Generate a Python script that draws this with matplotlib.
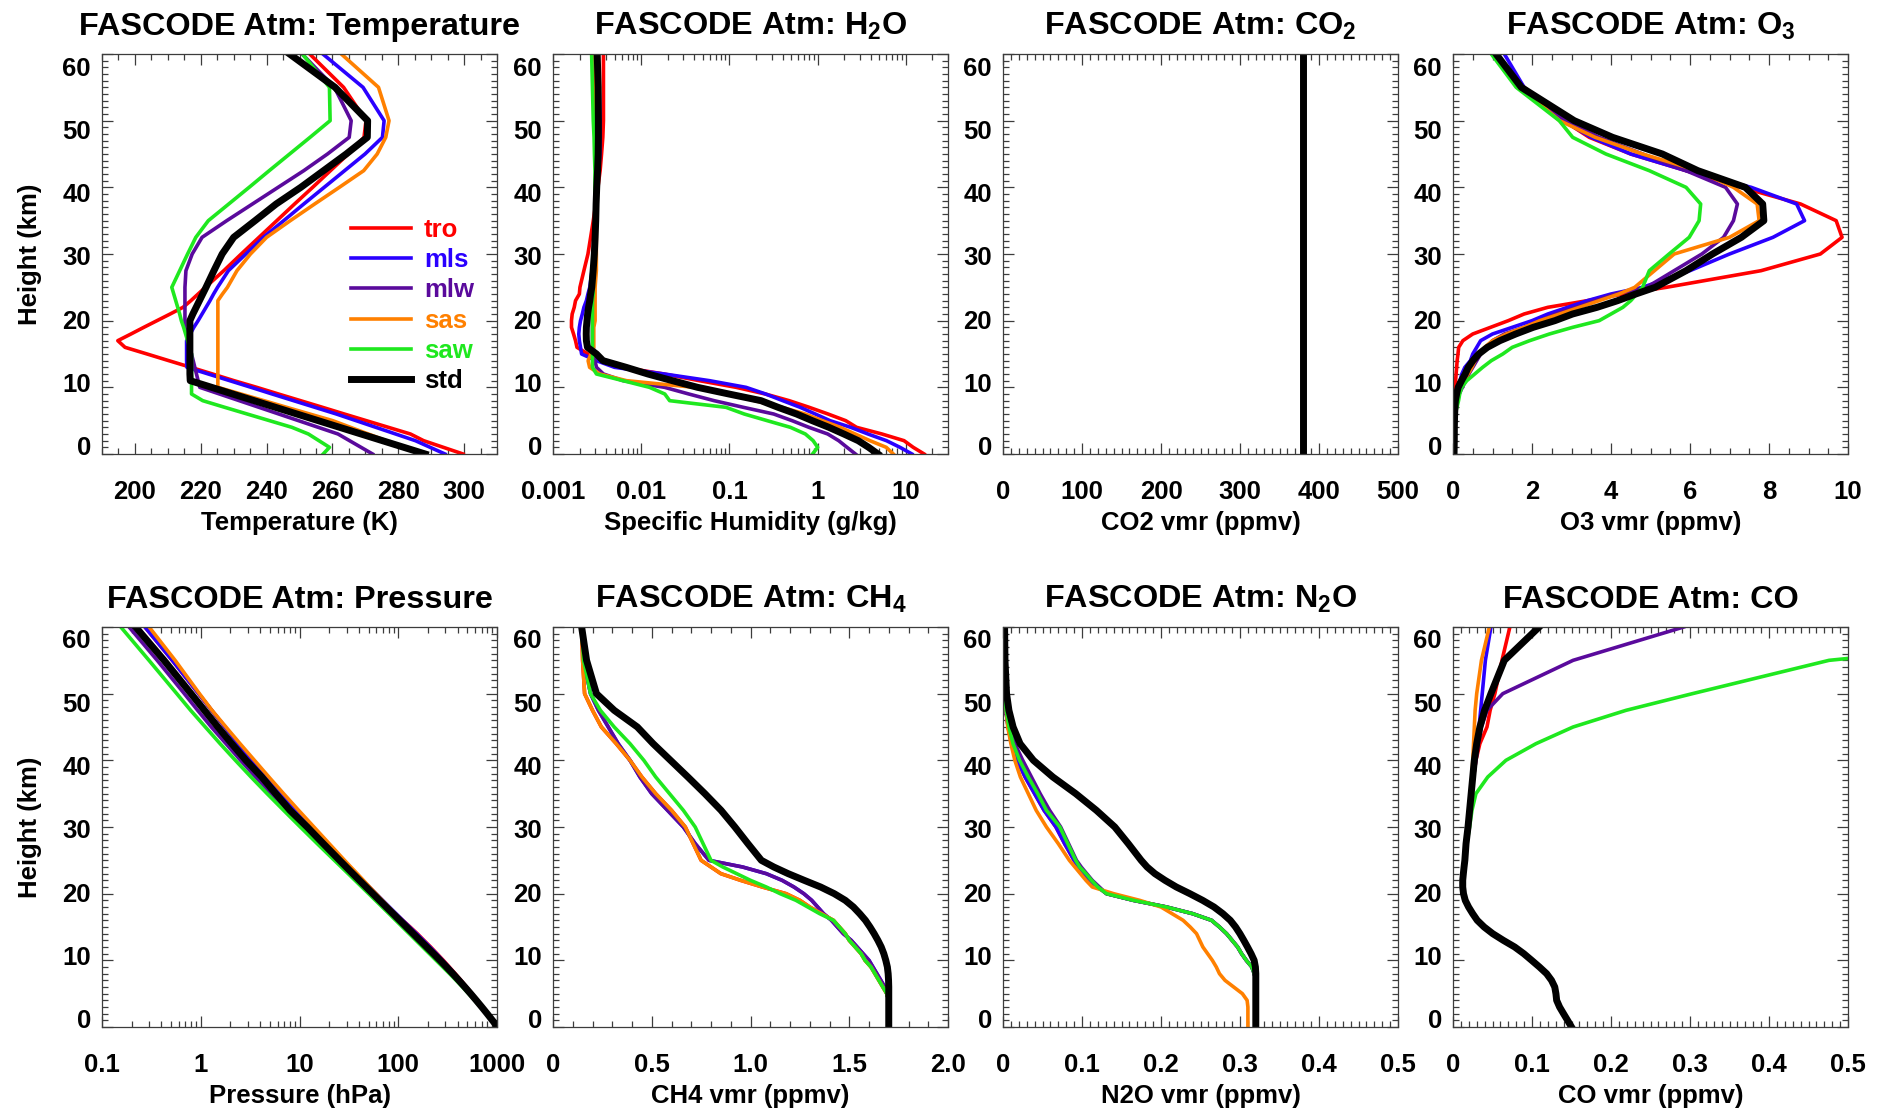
import numpy as np
import matplotlib.pyplot as plt
from matplotlib.ticker import MultipleLocator, LogLocator, NullFormatter
from matplotlib.transforms import ScaledTranslation

plt.rcParams['font.family'] = ['Liberation Sans', 'DejaVu Sans']
plt.rcParams['font.weight'] = 'bold'
plt.rcParams['mathtext.fontset'] = 'custom'
plt.rcParams['mathtext.rm'] = 'Liberation Sans:bold'
plt.rcParams['mathtext.default'] = 'regular'

# altitude grid (km)
heights = [0, 1, 2, 3, 4, 5, 6, 7, 8, 9, 10, 11, 12, 13, 14, 15, 16, 17, 18, 19,
           20, 21, 22, 23, 24, 25, 27.5, 30, 32.5, 35, 37.5, 40, 42.5, 45, 47.5, 50, 55, 60]

atm_names = ['tro', 'mls', 'mlw', 'sas', 'saw', 'std']

# temperature (K)
t_tro = [299.7, 293.7, 287.7, 283.7, 277.0, 270.3, 263.6, 257.0, 250.3, 243.6, 237.0, 230.1, 223.6, 217.0, 210.3,
         203.7, 197.0, 194.8, 198.8, 202.7, 206.7, 210.7, 214.6, 217.0, 219.2, 221.4, 227.0, 232.3, 237.7, 243.1,
         248.5, 254.0, 259.4, 264.8, 269.6, 270.2, 263.4, 253.1]
t_mls = [294.2, 289.7, 285.2, 279.2, 273.2, 267.2, 261.2, 254.7, 248.2, 241.7, 235.3, 228.8, 222.3, 215.8, 215.7,
         215.7, 215.7, 215.7, 216.8, 217.9, 219.2, 220.4, 221.6, 222.8, 223.9, 225.1, 228.4, 233.7, 239.0, 245.2,
         251.3, 257.5, 263.7, 269.9, 275.2, 275.7, 269.3, 257.1]
t_mlw = [272.2, 268.7, 265.2, 261.7, 255.7, 249.7, 243.7, 237.7, 231.7, 225.7, 219.7, 219.2, 218.7, 218.2, 217.7,
         217.2, 216.7, 216.2, 215.7, 215.2, 215.2, 215.2, 215.2, 215.2, 215.2, 215.2, 215.5, 217.4, 220.4, 227.9,
         235.7, 243.5, 251.3, 258.5, 265.1, 265.7, 260.6, 250.8]
t_sas = [287.2, 281.7, 276.3, 270.9, 265.5, 260.1, 253.1, 246.1, 239.2, 232.2, 225.2, 225.2, 225.2, 225.2, 225.2,
         225.2, 225.2, 225.2, 225.2, 225.2, 225.2, 225.2, 225.2, 225.2, 226.6, 228.1, 231.0, 235.1, 240.0, 247.2,
         254.6, 262.1, 269.5, 273.6, 276.2, 277.2, 274.0, 262.7]
t_saw = [257.2, 259.1, 255.9, 252.7, 247.7, 240.9, 234.1, 227.3, 220.6, 217.2, 217.2, 217.2, 217.2, 217.2, 217.2,
         217.2, 216.6, 216.0, 215.4, 214.8, 214.1, 213.6, 213.0, 212.4, 211.8, 211.2, 213.6, 216.0, 218.5, 222.3,
         228.5, 234.7, 240.8, 247.0, 253.2, 259.3, 259.1, 250.9]
t_std = [288.2, 281.7, 275.2, 268.7, 262.2, 255.7, 249.2, 242.7, 236.2, 229.7, 223.3, 216.8, 216.7, 216.7, 216.7,
         216.7, 216.7, 216.7, 216.7, 216.7, 216.7, 217.6, 218.6, 219.6, 220.6, 221.6, 224.0, 226.5, 230.0, 236.5,
         242.9, 250.4, 257.3, 264.2, 270.6, 270.7, 260.8, 247.0]

# specific humidity (g/kg)
q_tro = [16.1, 12.1, 9.52, 5.35, 2.76, 2.08, 1.31, 0.802, 0.475, 0.255, 0.119, 0.0455, 0.0181, 0.00616, 0.00387,
         0.00249, 0.00187, 0.00180, 0.00171, 0.00162, 0.00162, 0.00165, 0.00174, 0.00180, 0.00199, 0.00202,
         0.00224, 0.00249, 0.00267, 0.00286, 0.00305, 0.00323, 0.00342, 0.00355, 0.00367, 0.00373, 0.00373, 0.00373]
q_mls = [11.7, 8.57, 6.02, 3.72, 2.37, 1.38, 0.939, 0.634, 0.402, 0.257, 0.154, 0.0594, 0.0183, 0.00498, 0.00311,
         0.00211, 0.00205, 0.00199, 0.00196, 0.00199, 0.00205, 0.00215, 0.00224, 0.00239, 0.00249, 0.00261,
         0.00277, 0.00292, 0.00302, 0.00308, 0.00311, 0.00317, 0.00330, 0.00339, 0.00342, 0.00342, 0.00333, 0.00311]
q_mlw = [2.68, 2.15, 1.73, 1.30, 0.796, 0.513, 0.317, 0.144, 0.0670, 0.0346, 0.0184, 0.00622, 0.00373, 0.00311,
         0.00299, 0.00292, 0.00286, 0.00280, 0.00280, 0.00280, 0.00280, 0.00280, 0.00282, 0.00283, 0.00286,
         0.00289, 0.00292, 0.00295, 0.00299, 0.00302, 0.00305, 0.00308, 0.00311, 0.00311, 0.00311, 0.00308,
         0.00302, 0.00280]
q_sas = [7.2, 5.99, 3.91, 2.66, 1.80, 1.13, 0.723, 0.394, 0.194, 0.100, 0.040, 0.0068, 0.0034, 0.0026, 0.0025,
         0.0027, 0.0029, 0.0029, 0.0029, 0.0029, 0.0030, 0.0030, 0.0030, 0.0030, 0.0030, 0.0030, 0.0031, 0.0031,
         0.0031, 0.0031, 0.0031, 0.0031, 0.0031, 0.0031, 0.0031, 0.0031, 0.0030, 0.0030]
q_saw = [0.874, 1.00, 0.888, 0.725, 0.491, 0.268, 0.147, 0.0914, 0.0210, 0.0185, 0.0124, 0.00622, 0.00311,
         0.00280, 0.00280, 0.00280, 0.00280, 0.00280, 0.00280, 0.00280, 0.00280, 0.00280, 0.00280, 0.00280,
         0.00286, 0.00286, 0.00289, 0.00292, 0.00295, 0.00299, 0.00299, 0.00299, 0.00299, 0.00295, 0.00292,
         0.00286, 0.00280, 0.00274]
q_std = [4.82, 3.78, 2.88, 1.98, 1.34, 0.869, 0.576, 0.356, 0.228, 0.0985, 0.0435, 0.0225, 0.0119, 0.00675,
         0.00369, 0.00311, 0.00246, 0.00239, 0.00238, 0.00239, 0.00243, 0.00247, 0.00253, 0.00261, 0.00267,
         0.00275, 0.00285, 0.00294, 0.00300, 0.00305, 0.00308, 0.00313, 0.00320, 0.00325, 0.00327, 0.00327,
         0.00325, 0.00317]

# CO2 (ppmv), same for all six atmospheres
co2_vmr = [380, 380, 380, 380, 380, 380, 380, 380, 380, 380, 380, 380, 380, 380, 380, 380, 380, 380, 380,
           380, 380, 380, 380, 380, 380, 380, 380, 380, 380, 380, 380, 380, 380, 380, 380, 380, 380, 380]

# O3 (ppmv)
o3_tro = [0.0287, 0.0315, 0.0334, 0.0350, 0.0356, 0.0377, 0.0399, 0.0422, 0.0447, 0.050, 0.056, 0.066, 0.078,
          0.093, 0.105, 0.126, 0.144, 0.25, 0.5, 0.95, 1.4, 1.8, 2.4, 3.4, 4.3, 5.4, 7.8, 9.3, 9.85, 9.7, 8.8,
          7.3, 5.9, 4.5, 3.45, 2.8, 1.8, 1.1]
o3_mls = [0.0302, 0.0334, 0.0369, 0.0422, 0.0482, 0.0551, 0.0641, 0.0776, 0.0913, 0.111, 0.130, 0.179, 0.223,
          0.3, 0.44, 0.5, 0.6, 0.7, 1.0, 1.5, 2.0, 2.4, 2.9, 3.4, 4.0, 4.8, 6.0, 7.0, 8.1, 8.9, 8.7, 7.55, 5.9,
          4.5, 3.5, 2.8, 1.8, 1.3]
o3_mlw = [0.0278, 0.028, 0.0285, 0.032, 0.0357, 0.0472, 0.0584, 0.0789, 0.104, 0.157, 0.237, 0.320, 0.402, 0.5,
          0.6, 0.7, 0.85, 1.0, 1.3, 1.8, 2.2, 2.6, 3.1, 3.6, 4.1, 4.9, 5.6, 6.3, 6.85, 7.1, 7.2, 6.9, 5.9, 4.8,
          3.7, 2.85, 1.7, 1.1]
o3_sas = [0.024, 0.027, 0.031, 0.035, 0.04, 0.045, 0.05, 0.06, 0.08, 0.12, 0.18, 0.28, 0.38, 0.48, 0.56, 0.63,
          0.8, 1.0, 1.35, 1.8, 2.2, 2.7, 3.2, 3.7, 4.2, 4.6, 5.1, 5.6, 7.0, 7.75, 7.7, 7.1, 6.2, 4.8, 3.6, 2.7,
          1.7, 1.1]
o3_saw = [0.018, 0.02, 0.025, 0.03, 0.035, 0.04, 0.05, 0.1, 0.14, 0.17, 0.22, 0.35, 0.55, 0.75, 0.97, 1.26, 1.5,
          1.94, 2.44, 3.03, 3.7, 4.0, 4.3, 4.5, 4.65, 4.8, 4.97, 5.47, 5.98, 6.23, 6.27, 5.9, 4.97, 3.87, 3.03,
          2.69, 1.6, 0.97]
o3_std = [0.0266, 0.0293, 0.0324, 0.0332, 0.0339, 0.0377, 0.0411, 0.0501, 0.0597, 0.0917, 0.131, 0.215, 0.310,
          0.385, 0.503, 0.651, 0.870, 1.187, 1.587, 2.03, 2.579, 3.028, 3.647, 4.168, 4.627, 5.118, 5.9, 6.57,
          7.3, 7.87, 7.84, 7.4, 6.2, 5.3, 4.04, 3.07, 1.73, 1.09]

# pressure (hPa)
p_tro = [1013, 904, 805, 715, 633, 559, 492, 432, 378, 329, 286, 247, 213, 182, 156, 132, 111, 93.7, 78.9, 66.6,
         56.5, 48.0, 40.9, 35.0, 30.0, 25.7, 18.1, 12.8, 9.22, 6.53, 4.73, 3.33, 2.41, 1.76, 1.29, 0.951, 0.515,
         0.272]
p_mls = [1013, 902, 802, 710, 628, 554, 487, 426, 372, 324, 281, 243, 209, 179, 153, 130, 111, 95.0, 81.2, 69.5,
         59.5, 51.0, 43.7, 37.6, 32.2, 27.7, 19.07, 13.2, 9.3, 6.52, 4.64, 3.33, 2.4, 1.76, 1.29, 0.951, 0.515,
         0.272]
p_mlw = [1018, 897.3, 789.7, 693.8, 608.1, 531.3, 462.7, 401.6, 347.3, 299.2, 256.8, 219.9, 188.2, 161.0, 137.8,
         117.8, 100.7, 86.1, 73.5, 62.8, 53.7, 45.8, 39.1, 33.4, 28.6, 24.3, 16.6, 11.1, 7.56, 5.18, 3.6, 2.53,
         1.8, 1.28, 0.93, 0.682, 0.362, 0.188]
p_sas = [1010, 896, 792.9, 700, 616, 541, 473, 413, 359, 310.7, 267.7, 230, 197.7, 170, 146, 125.2, 107.5, 92.6,
         79.8, 68.9, 59.5, 51.3, 44.4, 38.4, 33.1, 28.6, 20.0, 14.0, 9.8, 6.9, 4.9, 3.5, 2.5, 1.8, 1.3, 0.97,
         0.55, 0.30]
p_saw = [1013, 887.8, 777.5, 679.8, 593.2, 515.8, 446.7, 385.3, 330.8, 282.9, 241.8, 206.7, 176.6, 151.0, 129.1,
         110.3, 94.31, 80.58, 68.82, 58.75, 50.14, 42.77, 36.47, 31.09, 26.49, 22.56, 15.13, 10.2, 6.91, 4.701,
         3.23, 2.243, 1.57, 1.113, 0.79, 0.5719, 0.299, 0.155]
p_std = [1013, 898.6, 795.0, 701.2, 616.6, 540.5, 472.2, 411.1, 356.5, 308.0, 265.0, 227.0, 194.0, 165.8, 141.7,
         121.1, 103.5, 88.5, 75.65, 64.67, 55.29, 47.29, 40.47, 34.67, 29.72, 25.49, 17.43, 11.97, 8.01, 5.746,
         4.15, 2.871, 2.06, 1.491, 1.09, 0.7978, 0.425, 0.219]

# CH4 (ppmv)
ch4_mlw = [1.7, 1.7, 1.7, 1.7, 1.7, 1.69, 1.68, 1.66, 1.64, 1.62, 1.6, 1.57, 1.54, 1.51, 1.47, 1.44, 1.41, 1.37,
           1.34, 1.31, 1.27, 1.22, 1.16, 1.08, 0.96, 0.79, 0.72, 0.66, 0.58, 0.5, 0.44, 0.39, 0.33, 0.28, 0.23,
           0.19, 0.155, 0.145]
ch4_sas = [1.7, 1.7, 1.7, 1.7, 1.7, 1.69, 1.67, 1.65, 1.63, 1.61, 1.58, 1.56, 1.53, 1.5, 1.48, 1.45, 1.42, 1.36,
           1.3, 1.25, 1.18, 1.06, 0.95, 0.85, 0.8, 0.75, 0.71, 0.67, 0.6, 0.52, 0.45, 0.39, 0.32, 0.245, 0.2,
           0.16, 0.15, 0.145]
ch4_saw = [1.7, 1.7, 1.7, 1.7, 1.7, 1.69, 1.67, 1.65, 1.63, 1.61, 1.58, 1.56, 1.53, 1.5, 1.48, 1.45, 1.42, 1.35,
           1.29, 1.23, 1.15, 1.08, 1.0, 0.93, 0.86, 0.8, 0.76, 0.72, 0.66, 0.59, 0.52, 0.46, 0.39, 0.31, 0.24,
           0.19, 0.155, 0.145]
ch4_std = [1.7, 1.7, 1.7, 1.7, 1.7, 1.7, 1.7, 1.699, 1.697, 1.693, 1.685, 1.675, 1.662, 1.645, 1.626, 1.605,
           1.582, 1.553, 1.521, 1.48, 1.424, 1.355, 1.272, 1.191, 1.118, 1.055, 0.987, 0.921, 0.851, 0.769, 0.683,
           0.595, 0.507, 0.427, 0.31, 0.22, 0.17, 0.145]

# N2O (ppmv)
n2o_mls = [0.32, 0.32, 0.32, 0.32, 0.32, 0.32, 0.32, 0.32, 0.318, 0.315, 0.308, 0.302, 0.297, 0.29, 0.283, 0.274,
           0.264, 0.24, 0.207, 0.165, 0.131, 0.12, 0.11, 0.103, 0.096, 0.09, 0.078, 0.067, 0.052, 0.04, 0.028,
           0.018, 0.011, 0.0065, 0.0035, 0.002, 0.001, 0.0008]
n2o_mlw = [0.32, 0.32, 0.32, 0.32, 0.32, 0.32, 0.32, 0.32, 0.318, 0.315, 0.308, 0.302, 0.297, 0.29, 0.283, 0.274,
           0.264, 0.24, 0.207, 0.165, 0.131, 0.122, 0.113, 0.106, 0.099, 0.093, 0.083, 0.073, 0.059, 0.047, 0.036,
           0.025, 0.015, 0.009, 0.005, 0.0025, 0.001, 0.0008]
n2o_sas = [0.31, 0.31, 0.31, 0.31, 0.309, 0.303, 0.292, 0.281, 0.274, 0.27, 0.265, 0.259, 0.253, 0.249, 0.245,
           0.237, 0.228, 0.214, 0.2, 0.173, 0.14, 0.113, 0.105, 0.098, 0.091, 0.084, 0.07, 0.055, 0.042, 0.032,
           0.022, 0.015, 0.01, 0.006, 0.004, 0.003, 0.0015, 0.001]
n2o_saw = [0.32, 0.32, 0.32, 0.32, 0.32, 0.32, 0.32, 0.32, 0.318, 0.315, 0.308, 0.302, 0.297, 0.29, 0.283, 0.274,
           0.264, 0.24, 0.207, 0.165, 0.131, 0.12, 0.112, 0.105, 0.097, 0.092, 0.082, 0.072, 0.055, 0.044, 0.032,
           0.021, 0.0127, 0.0076, 0.004, 0.002, 0.001, 0.0008]
n2o_std = [0.32, 0.32, 0.32, 0.32, 0.32, 0.32, 0.32, 0.32, 0.32, 0.3195, 0.3179, 0.314, 0.3095, 0.3048, 0.2999,
           0.2944, 0.2877, 0.2783, 0.2671, 0.2527, 0.2365, 0.2194, 0.2051, 0.1923, 0.1824, 0.1749, 0.1586, 0.1415,
           0.1182, 0.0921, 0.0631, 0.0385, 0.0216, 0.0128, 0.0075, 0.0045, 0.0025, 0.0020]

# CO (ppmv)
co_tro = [0.15, 0.145, 0.1399, 0.1349, 0.1312, 0.1303, 0.1288, 0.1247, 0.1185, 0.1094, 0.0996, 0.0896, 0.0781,
          0.0637, 0.0503, 0.0394, 0.0307, 0.0249, 0.0197, 0.0155, 0.0133, 0.0123, 0.0123, 0.0131, 0.014, 0.015,
          0.0165, 0.019, 0.021, 0.023, 0.026, 0.029, 0.034, 0.043, 0.047, 0.053, 0.062, 0.072]
co_mls = [0.15, 0.145, 0.1399, 0.1349, 0.1312, 0.1303, 0.1288, 0.1247, 0.1185, 0.1094, 0.0996, 0.0896, 0.0781,
          0.0637, 0.0503, 0.0394, 0.0307, 0.0249, 0.0197, 0.0155, 0.0133, 0.0123, 0.0123, 0.0131, 0.014, 0.015,
          0.0165, 0.019, 0.021, 0.023, 0.025, 0.027, 0.03, 0.033, 0.035, 0.037, 0.041, 0.048]
co_mlw = [0.15, 0.145, 0.1399, 0.1349, 0.1312, 0.1303, 0.1288, 0.1247, 0.1185, 0.1094, 0.0996, 0.0896, 0.0781,
          0.0637, 0.0503, 0.0394, 0.0307, 0.0249, 0.0197, 0.0155, 0.0133, 0.0123, 0.0123, 0.0131, 0.014, 0.015,
          0.0165, 0.019, 0.021, 0.023, 0.026, 0.029, 0.032, 0.036, 0.043, 0.063, 0.152, 0.292]
co_sas = [0.15, 0.145, 0.1399, 0.1349, 0.1312, 0.1303, 0.1288, 0.1247, 0.1185, 0.1094, 0.0996, 0.0896, 0.0781,
          0.0637, 0.0503, 0.0394, 0.0307, 0.0249, 0.0197, 0.0155, 0.0133, 0.0123, 0.0123, 0.0131, 0.014, 0.015,
          0.0165, 0.019, 0.021, 0.022, 0.024, 0.025, 0.026, 0.027, 0.028, 0.03, 0.036, 0.046]
co_saw = [0.15, 0.145, 0.1399, 0.1349, 0.1312, 0.1303, 0.1288, 0.1247, 0.1185, 0.1094, 0.0996, 0.0896, 0.0781,
          0.0637, 0.0503, 0.0394, 0.0307, 0.0249, 0.0197, 0.0155, 0.0133, 0.0123, 0.0123, 0.0131, 0.014, 0.015,
          0.0175, 0.021, 0.024, 0.029, 0.044, 0.067, 0.105, 0.152, 0.219, 0.303, 0.476, 0.9]
co_std = [0.15, 0.145, 0.1399, 0.1349, 0.1312, 0.1303, 0.1288, 0.1247, 0.1185, 0.1094, 0.0996, 0.0896, 0.0781,
          0.0637, 0.0503, 0.0394, 0.0307, 0.0249, 0.0197, 0.0155, 0.0133, 0.0123, 0.0123, 0.0131, 0.014, 0.015,
          0.0165, 0.019, 0.021, 0.023, 0.025, 0.027, 0.030, 0.034, 0.040, 0.048, 0.065, 0.109]

colors = ['#ff0000', '#2a00ff', '#5a0a9c', '#ff8000', '#1fe81f', '#000000']
widths = [2.6, 2.6, 2.6, 2.6, 2.6, 5.0]

panels = [
    dict(title='FASCODE Atm: Temperature', xlabel='Temperature (K)', log=False, xlim=(190, 310),
         ticks=[200, 220, 240, 260, 280, 300], labels=['200', '220', '240', '260', '280', '300'], minor=5,
         data=[t_tro, t_mls, t_mlw, t_sas, t_saw, t_std]),
    dict(title='FASCODE Atm: H$_2$O', xlabel='Specific Humidity (g/kg)', log=True, xlim=(0.001, 30),
         ticks=[0.001, 0.01, 0.1, 1, 10], labels=['0.001', '0.01', '0.1', '1', '10'], minor=None,
         data=[q_tro, q_mls, q_mlw, q_sas, q_saw, q_std]),
    dict(title='FASCODE Atm: CO$_2$', xlabel='CO2 vmr (ppmv)', log=False, xlim=(0, 500),
         ticks=[0, 100, 200, 300, 400, 500], labels=['0', '100', '200', '300', '400', '500'], minor=10,
         data=[co2_vmr] * 6),
    dict(title='FASCODE Atm: O$_3$', xlabel='O3 vmr (ppmv)', log=False, xlim=(0, 10),
         ticks=[0, 2, 4, 6, 8, 10], labels=['0', '2', '4', '6', '8', '10'], minor=0.5,
         data=[o3_tro, o3_mls, o3_mlw, o3_sas, o3_saw, o3_std]),
    dict(title='FASCODE Atm: Pressure', xlabel='Pressure (hPa)', log=True, xlim=(0.1, 1000),
         ticks=[0.1, 1, 10, 100, 1000], labels=['0.1', '1', '10', '100', '1000'], minor=None,
         data=[p_tro, p_mls, p_mlw, p_sas, p_saw, p_std]),
    dict(title='FASCODE Atm: CH$_4$', xlabel='CH4 vmr (ppmv)', log=False, xlim=(0, 2),
         ticks=[0, 0.5, 1.0, 1.5, 2.0], labels=['0', '0.5', '1.0', '1.5', '2.0'], minor=0.1,
         data=[ch4_sas, ch4_mlw, ch4_mlw, ch4_sas, ch4_saw, ch4_std]),
    dict(title='FASCODE Atm: N$_2$O', xlabel='N2O vmr (ppmv)', log=False, xlim=(0, 0.5),
         ticks=[0, 0.1, 0.2, 0.3, 0.4, 0.5], labels=['0', '0.1', '0.2', '0.3', '0.4', '0.5'], minor=0.01,
         data=[n2o_mls, n2o_mls, n2o_mlw, n2o_sas, n2o_saw, n2o_std]),
    dict(title='FASCODE Atm: CO', xlabel='CO vmr (ppmv)', log=False, xlim=(0, 0.5),
         ticks=[0, 0.1, 0.2, 0.3, 0.4, 0.5], labels=['0', '0.1', '0.2', '0.3', '0.4', '0.5'], minor=0.01,
         data=[co_tro, co_mls, co_mlw, co_sas, co_saw, co_std]),
]

height_ticks = [0, 10, 20, 30, 40, 50, 60]

W, H = 1885, 1118
fig = plt.figure(figsize=(W / 100, H / 100), dpi=100)

col_left = [102, 553, 1003, 1453]
row_top = [54, 627]
ax_w, ax_h = 395, 400
axis_color = '#3c3c3c'

for i, pan in enumerate(panels):
    r, c = divmod(i, 4)
    ax = fig.add_axes([col_left[c] / W, 1 - (row_top[r] + ax_h) / H, ax_w / W, ax_h / H])

    for name, vals, col, lw in zip(atm_names, pan['data'], colors, widths):
        ax.plot(vals, heights, color=col, lw=lw, label=name)

    if pan['log']:
        ax.set_xscale('log')
        ax.xaxis.set_minor_locator(LogLocator(base=10, subs=np.arange(2, 10)))
        ax.xaxis.set_minor_formatter(NullFormatter())
    ax.set_xticks(pan['ticks'], pan['labels'])
    if pan['minor']:
        ax.xaxis.set_minor_locator(MultipleLocator(pan['minor']))
    ax.set_xlim(*pan['xlim'])

    ax.set_ylim(0, 60)
    ax.set_yticks(height_ticks)
    ax.yaxis.set_minor_locator(MultipleLocator(1))

    ax.tick_params(which='both', direction='in', top=True, right=True, color=axis_color, width=0.9)
    ax.tick_params(which='major', length=8)
    ax.tick_params(which='minor', length=4)
    ax.tick_params(axis='x', which='major', pad=19, labelsize=18.5)
    ax.tick_params(axis='y', which='major', pad=8, labelsize=18.5)
    for s in ax.spines.values():
        s.set_color(axis_color)
        s.set_linewidth(0.9)

    # the height labels sit a little inside the end ticks, as in the original
    for tick, hv in zip(ax.yaxis.get_major_ticks(), height_ticks):
        shift = (8.4 - hv / 60 * 20.4) / 100
        tick.label1.set_transform(tick.label1.get_transform() +
                                  ScaledTranslation(0, shift, fig.dpi_scale_trans))

    ax.set_title(pan['title'], fontsize=23.3, fontweight='bold', pad=14)
    ax.set_xlabel(pan['xlabel'], fontsize=18.5, fontweight='bold', labelpad=5)
    if c == 0:
        ax.set_ylabel('Height (km)', fontsize=18.5, fontweight='bold')
        ax.yaxis.set_label_coords(-0.152, 0.5)

    if i == 0:
        ax.legend(loc='upper left', bbox_to_anchor=(0.63, 0.59), frameon=False, fontsize=18.5,
                  handlelength=2.35, handletextpad=0.5, labelspacing=0.24, borderpad=0,
                  borderaxespad=0, labelcolor='linecolor')

fig.savefig('out.png', dpi=100)
